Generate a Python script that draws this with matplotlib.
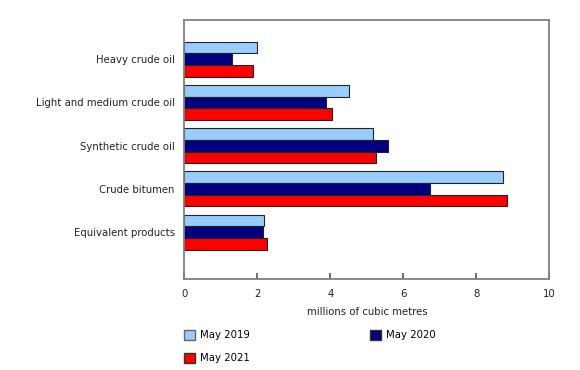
import numpy as np
import matplotlib.pyplot as plt
from matplotlib.patches import Patch

categories = ['Heavy crude oil', 'Light and medium crude oil', 'Synthetic crude oil',
              'Crude bitumen', 'Equivalent products']
may_2019 = [1.99, 4.51, 5.16, 8.72, 2.18]
may_2020 = [1.31, 3.87, 5.58, 6.74, 2.14]
may_2021 = [1.89, 4.04, 5.26, 8.83, 2.26]
series_labels = ['May 2019', 'May 2020', 'May 2021']
colors = ['#99CCFF', '#000080', '#FF0000']

plt.rcParams['font.family'] = 'DejaVu Sans'
plt.rcParams['font.size'] = 7.3

fig = plt.figure(figsize=(5.8, 3.7), dpi=100)
ax = fig.add_axes([0.318, 0.245, 0.629, 0.701])

ind = np.arange(len(categories))
h = 0.27
for i, (vals, col) in enumerate(zip([may_2019, may_2020, may_2021], colors)):
    ax.barh(ind + (i - 1) * h, vals, height=h, color=col,
            edgecolor='#222222', linewidth=0.8, label=series_labels[i])

ax.set_ylim(5.09, -0.906)
ax.set_xlim(0, 10)
ax.set_yticks(ind)
ax.set_yticklabels(categories, color='#222222')
ax.tick_params(axis='y', length=0, pad=7)
ax.set_xticks([0, 2, 4, 6, 8, 10])
ax.tick_params(axis='x', direction='in', length=4, width=1.2, color='#555555',
               labelcolor='#222222', pad=7)
for s in ax.spines.values():
    s.set_color('#808080')
    s.set_linewidth(1.3)
ax.set_xlabel('millions of cubic metres', color='#222222', labelpad=6)

handles = [Patch(facecolor=colors[0], edgecolor='#666666'),
           Patch(facecolor=colors[2], edgecolor='#333333'),
           Patch(facecolor=colors[1], edgecolor='#333333')]
labels = [series_labels[0], series_labels[2], series_labels[1]]
fig.legend(handles, labels, ncol=2, loc='upper left',
           bbox_to_anchor=(0.310, 0.119), frameon=False,
           handlelength=1.1, handleheight=1.1, handletextpad=0.5,
           columnspacing=11.8, labelspacing=1.25, borderaxespad=0)

fig.savefig('out.png', dpi=100)
